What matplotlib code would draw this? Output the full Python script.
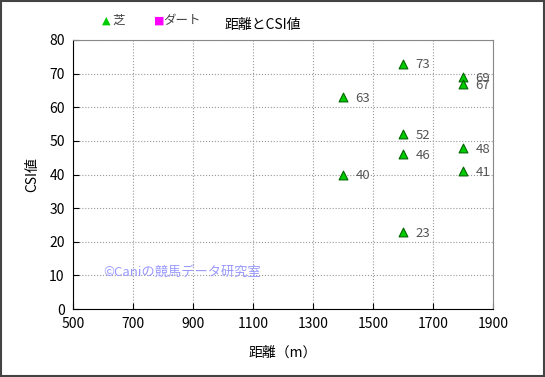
import matplotlib
matplotlib.use("Agg")
import matplotlib.pyplot as plt
from matplotlib.patches import Rectangle

plt.rcParams['font.family'] = ['Noto Sans CJK JP', 'DejaVu Sans']

# data
turf_dist = [1400, 1400, 1600, 1600, 1600, 1600, 1800, 1800, 1800, 1800]
turf_csi = [63, 40, 73, 52, 46, 23, 69, 67, 48, 41]
dirt_dist = []
dirt_csi = []

x_ticks = [500, 700, 900, 1100, 1300, 1500, 1700, 1900]
y_ticks = [0, 10, 20, 30, 40, 50, 60, 70, 80]

fig = plt.figure(figsize=(5.45, 3.77), dpi=100)
ax = fig.add_axes([0.134, 0.180, 0.771, 0.714])

ax.scatter(turf_dist, turf_csi, marker='^', s=40, color='#00cc00',
           edgecolors='#006600', linewidths=0.8, zorder=3)
ax.scatter(dirt_dist, dirt_csi, marker='s', s=40, color='#ff00ff', zorder=3)

for x, y in zip(turf_dist, turf_csi):
    ax.annotate(str(y), (x, y), xytext=(9, -1), textcoords='offset points',
                fontsize=9.5, color='#555555', va='center', ha='left')

ax.set_xlim(500, 1900)
ax.set_ylim(0, 80)
ax.set_xticks(x_ticks)
ax.set_yticks(y_ticks)
ax.tick_params(direction='in', labelsize=10, length=4, pad=6)
ax.grid(True, linestyle=':', color='#999999', linewidth=0.8)
ax.set_axisbelow(True)
for side in ['top', 'right']:
    ax.spines[side].set_color('#888888')
ax.spines['left'].set_color('black')
ax.spines['bottom'].set_color('black')

ax.set_xlabel('距離（m）', fontsize=10, labelpad=10)
ax.set_ylabel('CSI値', fontsize=10, labelpad=7)

ax.text(600, 11, '©Caniの競馬データ研究室', fontsize=9.5, color='#9999ff', va='center')

# title and legend across the top
fig.text(0.483, 0.935, '距離とCSI値', fontsize=10, ha='center', va='center')
fig.text(0.187, 0.945, '▲', fontsize=8, color='#00cc00', ha='left', va='center',
         family=['DejaVu Sans'])
fig.text(0.207, 0.945, '芝', fontsize=9, color='#444444', ha='left', va='center')
fig.text(0.283, 0.945, '■', fontsize=8, color='#ff00ff', ha='left', va='center',
         family=['DejaVu Sans'])
fig.text(0.300, 0.945, 'ダート', fontsize=9, color='#444444', ha='left', va='center')

fig.patches.append(Rectangle((0.002, 0.003), 0.996, 0.994, transform=fig.transFigure,
                             fill=False, edgecolor='#444444', linewidth=1.5))

fig.savefig('out.png', dpi=100)
